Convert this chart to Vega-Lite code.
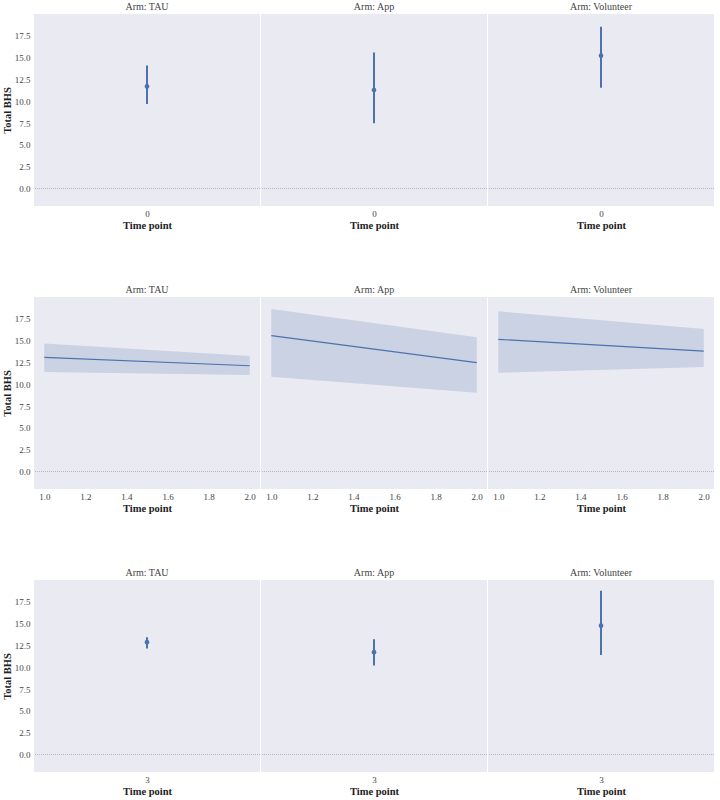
{
  "$schema": "https://vega.github.io/schema/vega-lite/v6.json",
  "background": "white",
  "padding": {"left": 2, "top": 2, "right": 0, "bottom": 0},
  "datasets": {
    "r0": [
      {"arm": "TAU", "time": 0, "mean": 11.7, "lo": 9.68, "hi": 14.1},
      {"arm": "App", "time": 0, "mean": 11.28, "lo": 7.48, "hi": 15.58},
      {"arm": "Volunteer", "time": 0, "mean": 15.23, "lo": 11.54, "hi": 18.53}
    ],
    "r12": [
      {"arm": "TAU", "time": 1, "mean": 13.08, "lo": 11.42, "hi": 14.68},
      {"arm": "TAU", "time": 2, "mean": 12.12, "lo": 11.06, "hi": 13.23},
      {"arm": "App", "time": 1, "mean": 15.58, "lo": 10.85, "hi": 18.63},
      {"arm": "App", "time": 2, "mean": 12.49, "lo": 9.03, "hi": 15.4},
      {"arm": "Volunteer", "time": 1, "mean": 15.15, "lo": 11.31, "hi": 18.36},
      {"arm": "Volunteer", "time": 2, "mean": 13.8, "lo": 11.99, "hi": 16.33}
    ],
    "r3": [
      {"arm": "TAU", "time": 3, "mean": 12.88, "lo": 12.16, "hi": 13.44},
      {"arm": "App", "time": 3, "mean": 11.73, "lo": 10.19, "hi": 13.2},
      {"arm": "Volunteer", "time": 3, "mean": 14.77, "lo": 11.41, "hi": 18.78}
    ]
  },
  "spacing": 54,
  "vconcat": [
    {
      "data": {"name": "r0"},
      "bounds": "flush",
      "spacing": 1,
      "resolve": {"scale": {"y": "shared"}},
      "hconcat": [
        {
          "title": "Arm: TAU", "width": 226, "height": 192,
          "transform": [{"filter": "datum.arm === 'TAU'"}],
          "encoding": {"x": {"field": "time", "type": "ordinal", "scale": {"type": "point"}, "axis": {"title": "Time point", "labelAngle": 0}}},
          "layer": [
            {"mark": {"type": "rule", "color": "#aaaaaa", "strokeDash": [1, 1], "strokeWidth": 0.8},
             "encoding": {"x": null, "y": {"datum": 0, "type": "quantitative", "scale": {"domain": [-0.93, 19.45]}, "axis": {"title": "Total BHS", "values": [0, 2.5, 5, 7.5, 10, 12.5, 15, 17.5], "format": ".1f"}}}},
            {"mark": {"type": "rule", "color": "#4C72B0", "strokeWidth": 2},
             "encoding": {"y": {"field": "lo", "type": "quantitative", "axis": {"title": "Total BHS", "values": [0, 2.5, 5, 7.5, 10, 12.5, 15, 17.5], "format": ".1f"}}, "y2": {"field": "hi"}}},
            {"mark": {"type": "circle", "color": "#4C72B0", "size": 22, "opacity": 1},
             "encoding": {"y": {"field": "mean", "type": "quantitative", "axis": {"title": "Total BHS", "values": [0, 2.5, 5, 7.5, 10, 12.5, 15, 17.5], "format": ".1f"}}}}
          ]
        },
        {
          "title": "Arm: App", "width": 226, "height": 192,
          "transform": [{"filter": "datum.arm === 'App'"}],
          "encoding": {"x": {"field": "time", "type": "ordinal", "scale": {"type": "point"}, "axis": {"title": "Time point", "labelAngle": 0}}},
          "layer": [
            {"mark": {"type": "rule", "color": "#aaaaaa", "strokeDash": [1, 1], "strokeWidth": 0.8},
             "encoding": {"x": null, "y": {"datum": 0, "type": "quantitative", "scale": {"domain": [-0.93, 19.45]}, "axis": null}}},
            {"mark": {"type": "rule", "color": "#4C72B0", "strokeWidth": 2},
             "encoding": {"y": {"field": "lo", "type": "quantitative", "axis": null}, "y2": {"field": "hi"}}},
            {"mark": {"type": "circle", "color": "#4C72B0", "size": 22, "opacity": 1},
             "encoding": {"y": {"field": "mean", "type": "quantitative", "axis": null}}}
          ]
        },
        {
          "title": "Arm: Volunteer", "width": 226, "height": 192,
          "transform": [{"filter": "datum.arm === 'Volunteer'"}],
          "encoding": {"x": {"field": "time", "type": "ordinal", "scale": {"type": "point"}, "axis": {"title": "Time point", "labelAngle": 0}}},
          "layer": [
            {"mark": {"type": "rule", "color": "#aaaaaa", "strokeDash": [1, 1], "strokeWidth": 0.8},
             "encoding": {"x": null, "y": {"datum": 0, "type": "quantitative", "scale": {"domain": [-0.93, 19.45]}, "axis": null}}},
            {"mark": {"type": "rule", "color": "#4C72B0", "strokeWidth": 2},
             "encoding": {"y": {"field": "lo", "type": "quantitative", "axis": null}, "y2": {"field": "hi"}}},
            {"mark": {"type": "circle", "color": "#4C72B0", "size": 22, "opacity": 1},
             "encoding": {"y": {"field": "mean", "type": "quantitative", "axis": null}}}
          ]
        }
      ]
    },
    {
      "data": {"name": "r12"},
      "bounds": "flush",
      "spacing": 1,
      "resolve": {"scale": {"y": "shared"}},
      "hconcat": [
        {
          "title": "Arm: TAU", "width": 226, "height": 192,
          "transform": [{"filter": "datum.arm === 'TAU'"}],
          "encoding": {"x": {"field": "time", "type": "quantitative", "scale": {"domain": [0.95, 2.05], "nice": false, "zero": false}, "axis": {"title": "Time point", "values": [1, 1.2, 1.4, 1.6, 1.8, 2], "format": ".1f"}}},
          "layer": [
            {"transform": [{"filter": "datum.time == 1"}],
             "mark": {"type": "rule", "color": "#aaaaaa", "strokeDash": [1, 1], "strokeWidth": 0.8},
             "encoding": {"x": null, "y": {"datum": 0, "type": "quantitative", "scale": {"domain": [-0.93, 19.56]}, "axis": {"title": "Total BHS", "values": [0, 2.5, 5, 7.5, 10, 12.5, 15, 17.5], "format": ".1f"}}}},
            {"mark": {"type": "area", "color": "#4C72B0", "opacity": 0.2},
             "encoding": {"y": {"field": "lo", "type": "quantitative", "axis": {"title": "Total BHS", "values": [0, 2.5, 5, 7.5, 10, 12.5, 15, 17.5], "format": ".1f"}}, "y2": {"field": "hi"}}},
            {"mark": {"type": "line", "color": "#4C72B0", "strokeWidth": 1.2},
             "encoding": {"y": {"field": "mean", "type": "quantitative", "axis": {"title": "Total BHS", "values": [0, 2.5, 5, 7.5, 10, 12.5, 15, 17.5], "format": ".1f"}}}}
          ]
        },
        {
          "title": "Arm: App", "width": 226, "height": 192,
          "transform": [{"filter": "datum.arm === 'App'"}],
          "encoding": {"x": {"field": "time", "type": "quantitative", "scale": {"domain": [0.95, 2.05], "nice": false, "zero": false}, "axis": {"title": "Time point", "values": [1, 1.2, 1.4, 1.6, 1.8, 2], "format": ".1f"}}},
          "layer": [
            {"transform": [{"filter": "datum.time == 1"}],
             "mark": {"type": "rule", "color": "#aaaaaa", "strokeDash": [1, 1], "strokeWidth": 0.8},
             "encoding": {"x": null, "y": {"datum": 0, "type": "quantitative", "scale": {"domain": [-0.93, 19.56]}, "axis": null}}},
            {"mark": {"type": "area", "color": "#4C72B0", "opacity": 0.2},
             "encoding": {"y": {"field": "lo", "type": "quantitative", "axis": null}, "y2": {"field": "hi"}}},
            {"mark": {"type": "line", "color": "#4C72B0", "strokeWidth": 1.2},
             "encoding": {"y": {"field": "mean", "type": "quantitative", "axis": null}}}
          ]
        },
        {
          "title": "Arm: Volunteer", "width": 226, "height": 192,
          "transform": [{"filter": "datum.arm === 'Volunteer'"}],
          "encoding": {"x": {"field": "time", "type": "quantitative", "scale": {"domain": [0.95, 2.05], "nice": false, "zero": false}, "axis": {"title": "Time point", "values": [1, 1.2, 1.4, 1.6, 1.8, 2], "format": ".1f"}}},
          "layer": [
            {"transform": [{"filter": "datum.time == 1"}],
             "mark": {"type": "rule", "color": "#aaaaaa", "strokeDash": [1, 1], "strokeWidth": 0.8},
             "encoding": {"x": null, "y": {"datum": 0, "type": "quantitative", "scale": {"domain": [-0.93, 19.56]}, "axis": null}}},
            {"mark": {"type": "area", "color": "#4C72B0", "opacity": 0.2},
             "encoding": {"y": {"field": "lo", "type": "quantitative", "axis": null}, "y2": {"field": "hi"}}},
            {"mark": {"type": "line", "color": "#4C72B0", "strokeWidth": 1.2},
             "encoding": {"y": {"field": "mean", "type": "quantitative", "axis": null}}}
          ]
        }
      ]
    },
    {
      "data": {"name": "r3"},
      "bounds": "flush",
      "spacing": 1,
      "resolve": {"scale": {"y": "shared"}},
      "hconcat": [
        {
          "title": "Arm: TAU", "width": 226, "height": 192,
          "transform": [{"filter": "datum.arm === 'TAU'"}],
          "encoding": {"x": {"field": "time", "type": "ordinal", "scale": {"type": "point"}, "axis": {"title": "Time point", "labelAngle": 0}}},
          "layer": [
            {"mark": {"type": "rule", "color": "#aaaaaa", "strokeDash": [1, 1], "strokeWidth": 0.8},
             "encoding": {"x": null, "y": {"datum": 0, "type": "quantitative", "scale": {"domain": [-0.94, 19.72]}, "axis": {"title": "Total BHS", "values": [0, 2.5, 5, 7.5, 10, 12.5, 15, 17.5], "format": ".1f"}}}},
            {"mark": {"type": "rule", "color": "#4C72B0", "strokeWidth": 2},
             "encoding": {"y": {"field": "lo", "type": "quantitative", "axis": {"title": "Total BHS", "values": [0, 2.5, 5, 7.5, 10, 12.5, 15, 17.5], "format": ".1f"}}, "y2": {"field": "hi"}}},
            {"mark": {"type": "circle", "color": "#4C72B0", "size": 22, "opacity": 1},
             "encoding": {"y": {"field": "mean", "type": "quantitative", "axis": {"title": "Total BHS", "values": [0, 2.5, 5, 7.5, 10, 12.5, 15, 17.5], "format": ".1f"}}}}
          ]
        },
        {
          "title": "Arm: App", "width": 226, "height": 192,
          "transform": [{"filter": "datum.arm === 'App'"}],
          "encoding": {"x": {"field": "time", "type": "ordinal", "scale": {"type": "point"}, "axis": {"title": "Time point", "labelAngle": 0}}},
          "layer": [
            {"mark": {"type": "rule", "color": "#aaaaaa", "strokeDash": [1, 1], "strokeWidth": 0.8},
             "encoding": {"x": null, "y": {"datum": 0, "type": "quantitative", "scale": {"domain": [-0.94, 19.72]}, "axis": null}}},
            {"mark": {"type": "rule", "color": "#4C72B0", "strokeWidth": 2},
             "encoding": {"y": {"field": "lo", "type": "quantitative", "axis": null}, "y2": {"field": "hi"}}},
            {"mark": {"type": "circle", "color": "#4C72B0", "size": 22, "opacity": 1},
             "encoding": {"y": {"field": "mean", "type": "quantitative", "axis": null}}}
          ]
        },
        {
          "title": "Arm: Volunteer", "width": 226, "height": 192,
          "transform": [{"filter": "datum.arm === 'Volunteer'"}],
          "encoding": {"x": {"field": "time", "type": "ordinal", "scale": {"type": "point"}, "axis": {"title": "Time point", "labelAngle": 0}}},
          "layer": [
            {"mark": {"type": "rule", "color": "#aaaaaa", "strokeDash": [1, 1], "strokeWidth": 0.8},
             "encoding": {"x": null, "y": {"datum": 0, "type": "quantitative", "scale": {"domain": [-0.94, 19.72]}, "axis": null}}},
            {"mark": {"type": "rule", "color": "#4C72B0", "strokeWidth": 2},
             "encoding": {"y": {"field": "lo", "type": "quantitative", "axis": null}, "y2": {"field": "hi"}}},
            {"mark": {"type": "circle", "color": "#4C72B0", "size": 22, "opacity": 1},
             "encoding": {"y": {"field": "mean", "type": "quantitative", "axis": null}}}
          ]
        }
      ]
    }
  ],
  "config": {
    "font": "Liberation Serif",
    "view": {"fill": "#EAEAF2", "stroke": null},
    "axis": {"domain": false, "ticks": false, "grid": false, "labelColor": "#444444", "labelFontSize": 9, "labelPadding": 4, "labelOverlap": false, "titleFontSize": 10.5, "titleFontWeight": "bold", "titleColor": "#222222", "titlePadding": 2},
    "axisX": {"labelPadding": 3},
    "title": {"fontSize": 10, "fontWeight": "normal", "color": "#444444", "offset": 2, "font": "Liberation Serif"}
  }
}
